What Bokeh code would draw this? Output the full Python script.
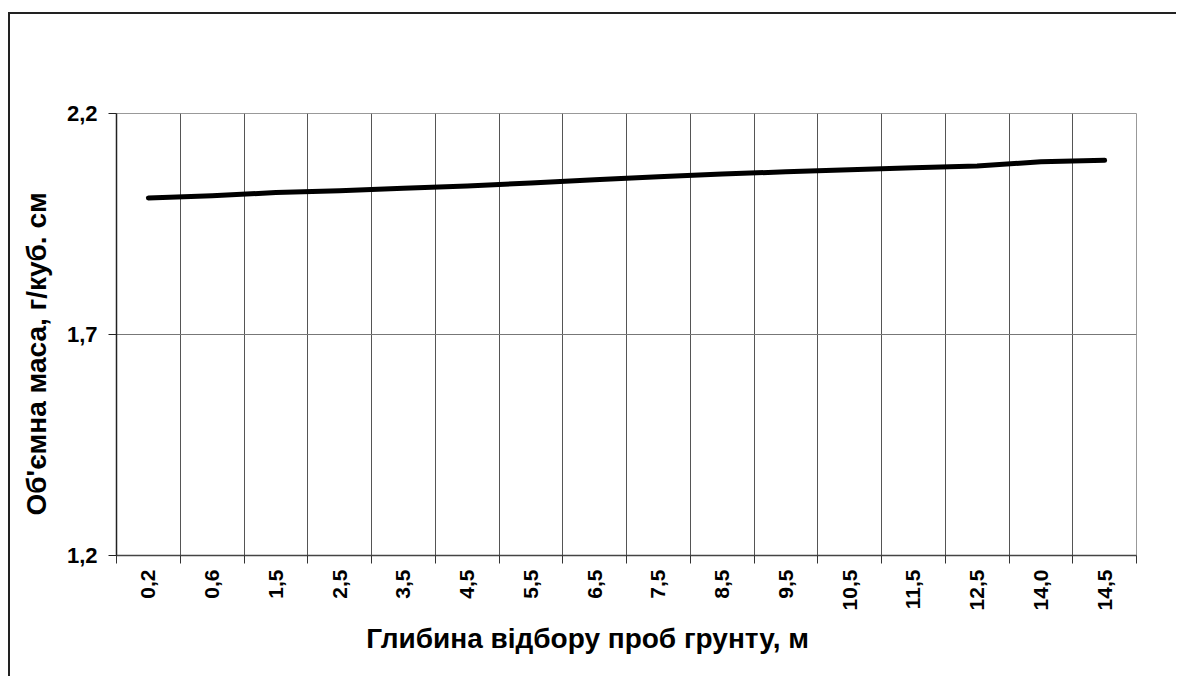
import math
from bokeh.plotting import figure
from bokeh.models import FixedTicker, CustomJSTickFormatter, Range1d, ColumnDataSource
from bokeh.embed import file_html
from bokeh.resources import INLINE

depths = ["0,2", "0,6", "1,5", "2,5", "3,5", "4,5", "5,5", "6,5", "7,5", "8,5",
          "9,5", "10,5", "11,5", "12,5", "14,0", "14,5"]
density = [2.009, 2.014, 2.021, 2.025, 2.031, 2.036, 2.043, 2.050, 2.057, 2.063,
           2.068, 2.073, 2.077, 2.081, 2.091, 2.094]
y_ticks = [1.2, 1.7, 2.2]
x_title = "Глибина відбору проб грунту, м"
y_title = "Об'ємна маса, г/куб. см"

n = len(depths)
xs = [i + 0.5 for i in range(n)]
bounds = list(range(n + 1))
src = ColumnDataSource(dict(x=xs, y=density))

FONT = "Liberation Sans"
NBSP = "\u00a0"

p = figure(width=1168, height=664, output_backend="svg", toolbar_location=None,
           x_range=Range1d(0, n), y_range=Range1d(1.2, 2.2),
           min_border_left=106, min_border_right=42, min_border_top=99, min_border_bottom=123)
p.margin = (12, 0, 0, 8)
p.styles = {"border-left": "2px solid #222222", "border-top": "2px solid #222222"}
p.background_fill_color = "white"
p.border_fill_color = "white"
p.outline_line_color = "#999999"
p.outline_line_width = 1

p.line("x", "y", source=src, line_color="black", line_width=5, line_cap="round", line_join="round")

# x axis
xa = p.xaxis[0]
xa.ticker = FixedTicker(ticks=xs, minor_ticks=bounds)
xa.major_label_overrides = {x: d for x, d in zip(xs, depths)}
xa.major_label_orientation = math.pi / 2
xa.major_tick_out = 0
xa.major_tick_in = 0
xa.minor_tick_out = 8
xa.minor_tick_in = 0
xa.minor_tick_line_color = "#333333"
xa.axis_line_color = "#444444"
xa.axis_line_width = 1.5
xa.major_label_text_font = FONT
xa.major_label_text_font_style = "bold"
xa.major_label_text_font_size = "21px"
xa.major_label_text_color = "black"
xa.major_label_standoff = 6
xa.axis_label = x_title + NBSP * 10
xa.axis_label_text_font = FONT
xa.axis_label_text_font_style = "bold"
xa.axis_label_text_font_size = "28px"
xa.axis_label_text_color = "black"
xa.axis_label_standoff = 10

# y axis
ya = p.yaxis[0]
ya.ticker = FixedTicker(ticks=y_ticks, minor_ticks=[])
ya.formatter = CustomJSTickFormatter(code="return tick.toFixed(1).replace('.', ',');")
ya.major_tick_out = 8
ya.major_tick_in = 0
ya.major_tick_line_color = "#222222"
ya.axis_line_color = "#222222"
ya.axis_line_width = 1.5
ya.major_label_text_font = FONT
ya.major_label_text_font_style = "bold"
ya.major_label_text_font_size = "22px"
ya.major_label_text_color = "black"
ya.major_label_standoff = 11
ya.axis_label = y_title + NBSP * 5
ya.axis_label_text_font = FONT
ya.axis_label_text_font_style = "bold"
ya.axis_label_text_font_size = "28px"
ya.axis_label_text_color = "black"
ya.axis_label_standoff = 12

# grids
p.xgrid.ticker = FixedTicker(ticks=bounds)
p.xgrid.grid_line_color = "#555555"
p.xgrid.grid_line_width = 1
p.ygrid.ticker = FixedTicker(ticks=y_ticks)
p.ygrid.grid_line_color = "#777777"
p.ygrid.grid_line_width = 1

open("out.html", "w").write(file_html(p, INLINE))
